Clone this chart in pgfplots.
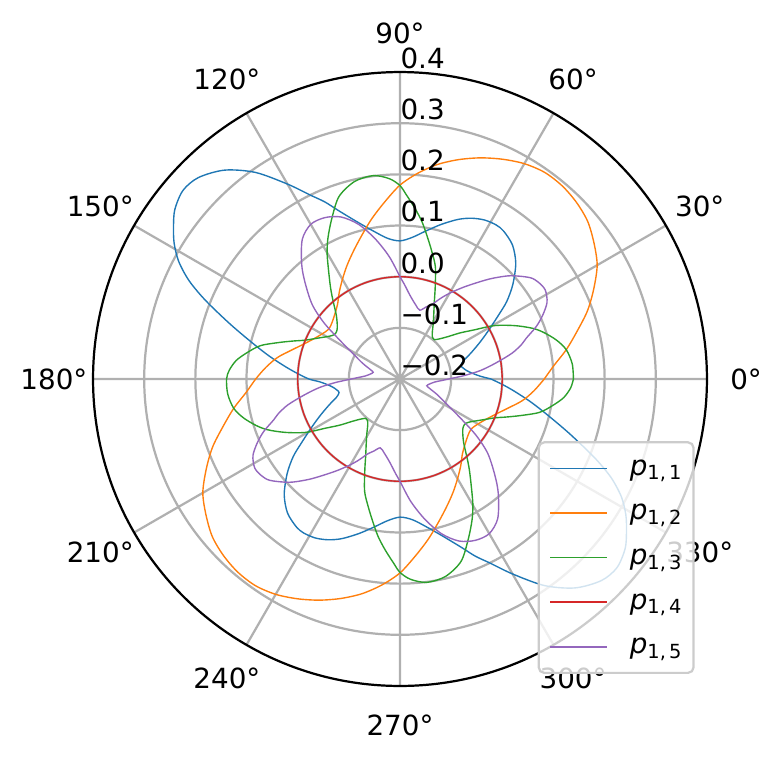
\documentclass[border=0pt]{standalone}
\usepackage{fontspec}
\setmainfont{DejaVu Sans}
\usepackage{pgfplots}
\usepackage{pgfplotstable}
\pgfplotsset{compat=1.18}
\usepgfplotslibrary{polar}
\definecolor{c1}{HTML}{1F77B4}
\definecolor{c2}{HTML}{FF7F0E}
\definecolor{c3}{HTML}{2CA02C}
\definecolor{c4}{HTML}{D62728}
\definecolor{c5}{HTML}{9467BD}
\definecolor{gridc}{HTML}{B0B0B0}
\definecolor{legedge}{HTML}{CCCCCC}

\pgfplotstableread{
t r
0 -0.022
2 -0.043
4.5 -0.058
7 -0.068
10 -0.075
12.5 -0.078
16 -0.071
20 -0.053
24 -0.032
27 -0.014
30 0.006
33 0.030
36 0.058
40 0.088
45 0.120
50 0.142
55 0.153
58 0.155
62 0.152
66 0.144
70 0.132
75 0.113
80 0.094
85 0.078
90 0.070
95 0.076
100 0.093
105 0.117
110 0.150
113 0.176
116 0.200
120 0.240
125 0.293
130 0.333
135 0.357
139 0.362
143 0.351
146 0.334
149 0.315
152 0.290
155 0.255
158 0.210
162 0.150
166 0.100
170 0.060
174 0.024
177 0.000
180 -0.022
182 -0.043
184.5 -0.058
187 -0.068
190 -0.075
192.5 -0.078
196 -0.071
200 -0.053
204 -0.032
207 -0.014
210 0.006
213 0.030
216 0.058
220 0.088
225 0.120
230 0.142
235 0.153
238 0.155
242 0.152
246 0.144
250 0.132
255 0.113
260 0.094
265 0.078
270 0.070
275 0.076
280 0.093
285 0.117
290 0.150
293 0.176
296 0.200
300 0.240
305 0.293
310 0.333
315 0.357
319 0.362
323 0.351
326 0.334
329 0.315
332 0.290
335 0.255
338 0.210
342 0.150
346 0.100
350 0.060
354 0.024
357 0.000
360 -0.022
}\tblue

\pgfplotstableread{
t r
0 0.082
5 0.102
10 0.130
15 0.158
20 0.190
25 0.218
30 0.245
35 0.263
40 0.279
45 0.288
50 0.293
55 0.293
60 0.286
65 0.274
70 0.260
75 0.244
80 0.226
85 0.204
90 0.179
95 0.147
100 0.118
105 0.090
110 0.066
115 0.045
120 0.025
125 0.007
130 -0.010
135 -0.020
140 -0.027
145 -0.030
150 -0.024
155 -0.014
160 0.000
165 0.019
170 0.043
175 0.063
180 0.082
185 0.102
190 0.130
195 0.158
200 0.190
205 0.218
210 0.245
215 0.263
220 0.279
225 0.288
230 0.293
235 0.293
240 0.286
245 0.274
250 0.260
255 0.244
260 0.226
265 0.204
270 0.179
275 0.147
280 0.118
285 0.090
290 0.066
295 0.045
300 0.025
305 0.007
310 -0.010
315 -0.020
320 -0.027
325 -0.030
330 -0.024
335 -0.014
340 0.000
345 0.019
350 0.043
355 0.063
360 0.082
}\torange

\pgfplotstableread{
t r
0 0.139
5 0.138
10 0.130
14 0.115
18 0.095
21 0.077
25 0.047
29.5 0.012
33.5 -0.026
37.5 -0.052
41.5 -0.075
45.5 -0.090
49 -0.098
52 -0.097
55 -0.090
59 -0.074
62.5 -0.057
66 -0.035
69 -0.008
72.5 0.030
76 0.057
79 0.082
82 0.110
85 0.135
88 0.160
90 0.178
93 0.192
97.5 0.201
103 0.196
108.5 0.176
113 0.141
117 0.110
120 0.085
123 0.057
127 0.026
130 0.005
135 -0.024
140 -0.040
143 -0.045
146 -0.045
149 -0.038
152 -0.027
155 -0.014
158 0.002
160 0.018
163 0.045
166.5 0.080
170 0.102
173.5 0.122
177 0.134
180 0.139
185 0.138
190 0.130
194 0.115
198 0.095
201 0.077
205 0.047
209.5 0.012
213.5 -0.026
217.5 -0.052
221.5 -0.075
225.5 -0.090
229 -0.098
232 -0.097
235 -0.090
239 -0.074
242.5 -0.057
246 -0.035
249 -0.008
252.5 0.030
256 0.057
259 0.082
262 0.110
265 0.135
268 0.160
270 0.178
273 0.192
277.5 0.201
283 0.196
288.5 0.176
293 0.141
297 0.110
300 0.085
303 0.057
307 0.026
310 0.005
315 -0.024
320 -0.040
323 -0.045
326 -0.045
329 -0.038
332 -0.027
335 -0.014
338 0.002
340 0.018
343 0.045
346.5 0.080
350 0.102
353.5 0.122
357 0.134
360 0.139
}\tgreen

\pgfplotstableread{
t r
0 0
10 0
20 0
30 0
40 0
50 0
60 0
70 0
80 0
90 0
100 0
110 0
120 0
130 0
140 0
150 0
160 0
170 0
180 0
190 0
200 0
210 0
220 0
230 0
240 0
250 0
260 0
270 0
280 0
290 0
300 0
310 0
320 0
330 0
340 0
350 0
360 0
}\tred

\pgfplotstableread{
t r
0 -0.105
3 -0.075
6 -0.042
9.5 -0.010
13 0.025
16 0.048
18 0.060
21 0.085
24 0.105
27.5 0.124
31.5 0.133
35 0.130
38 0.122
43 0.096
47 0.070
50 0.050
55 0.020
59.5 -0.004
63 -0.022
66.5 -0.040
70 -0.050
74 -0.060
78 -0.052
83 -0.036
87.5 -0.014
90 0.000
95 0.040
100 0.078
105 0.113
110 0.137
115 0.148
120 0.149
125 0.133
130.5 0.096
134.5 0.065
139.7 0.025
143.5 -0.015
147 -0.058
150 -0.085
153 -0.103
157 -0.120
160 -0.132
163 -0.141
166 -0.146
170 -0.142
175 -0.132
178 -0.118
180 -0.105
183 -0.075
186 -0.042
189.5 -0.010
193 0.025
196 0.048
198 0.060
201 0.085
204 0.105
207.5 0.124
211.5 0.133
215 0.130
218 0.122
223 0.096
227 0.070
230 0.050
235 0.020
239.5 -0.004
243 -0.022
246.5 -0.040
250 -0.050
254 -0.060
258 -0.052
263 -0.036
267.5 -0.014
270 0.000
275 0.040
280 0.078
285 0.113
290 0.137
295 0.148
300 0.149
305 0.133
310.5 0.096
314.5 0.065
319.7 0.025
323.5 -0.015
327 -0.058
330 -0.085
333 -0.103
337 -0.120
340 -0.132
343 -0.141
346 -0.146
350 -0.142
355 -0.132
358 -0.118
360 -0.105
}\tpurple

\begin{document}
\begin{tikzpicture}
\useasboundingbox (0pt,0pt) rectangle (281.52pt,273.96pt);
\begin{polaraxis}[
  at={(144pt,137.52pt)}, anchor=center,
  scale only axis, width=221pt, height=221pt,
  ymin=0, ymax=0.6,
  xtick={0,30,...,330}, xticklabels={},
  ytick={0.1,0.2,0.3,0.4,0.5}, yticklabels={},
  extra y ticks={0.6}, extra y tick labels={},
  extra y tick style={grid=major, major grid style={draw=black, line width=0.8pt}},
  major tick length=0pt,
  xmajorgrids, ymajorgrids,
  major grid style={draw=gridc, line width=0.8pt},
  axis line style={draw=none},
  clip=false,
  legend style={at={(0.980,0.0195)}, anchor=south east,
    draw=legedge, line width=0.8pt, fill=white, fill opacity=0.8,
    draw opacity=1, text opacity=1, rounded corners=2pt,
    inner xsep=3.8pt, inner ysep=4.4pt, row sep=6.05pt, column sep=7.9pt,
    nodes={inner sep=0pt, text height=7.5pt, text depth=2.5pt}},
  legend cell align=left,
  legend image code/.code={\draw[#1, line width=0.6pt, draw opacity=1, sharp corners] (0pt,0pt) -- (20.5pt,0pt);},
  every axis plot/.append style={line width=0.5pt, smooth},
]
\pgfplotsinvokeforeach{0,30,...,330}{\node[inner sep=0pt] at (axis cs:#1,0.6765) {#1°};}
\addplot[draw=c1] table[x=t, y expr=\thisrow{r}+0.2]{\tblue};
\addlegendentry{\textit{p}\textsubscript{1,\,1}}
\addplot[draw=c2] table[x=t, y expr=\thisrow{r}+0.2]{\torange};
\addlegendentry{\textit{p}\textsubscript{1,\,2}}
\addplot[draw=c3] table[x=t, y expr=\thisrow{r}+0.2]{\tgreen};
\addlegendentry{\textit{p}\textsubscript{1,\,3}}
\addplot[draw=c4] table[x=t, y expr=\thisrow{r}+0.2]{\tred};
\addlegendentry{\textit{p}\textsubscript{1,\,4}}
\addplot[draw=c5] table[x=t, y expr=\thisrow{r}+0.2]{\tpurple};
\addlegendentry{\textit{p}\textsubscript{1,\,5}}
\end{polaraxis}
\node[anchor=west, inner sep=0pt] at (144pt,142.30pt) {−0.2};
\node[anchor=west, inner sep=0pt] at (144pt,160.77pt) {−0.1};
\node[anchor=west, inner sep=0pt] at (144pt,179.24pt) {0.0};
\node[anchor=west, inner sep=0pt] at (144pt,197.71pt) {0.1};
\node[anchor=west, inner sep=0pt] at (144pt,216.18pt) {0.2};
\node[anchor=west, inner sep=0pt] at (144pt,234.65pt) {0.3};
\node[anchor=west, inner sep=0pt] at (144pt,253.12pt) {0.4};
\end{tikzpicture}
\end{document}
